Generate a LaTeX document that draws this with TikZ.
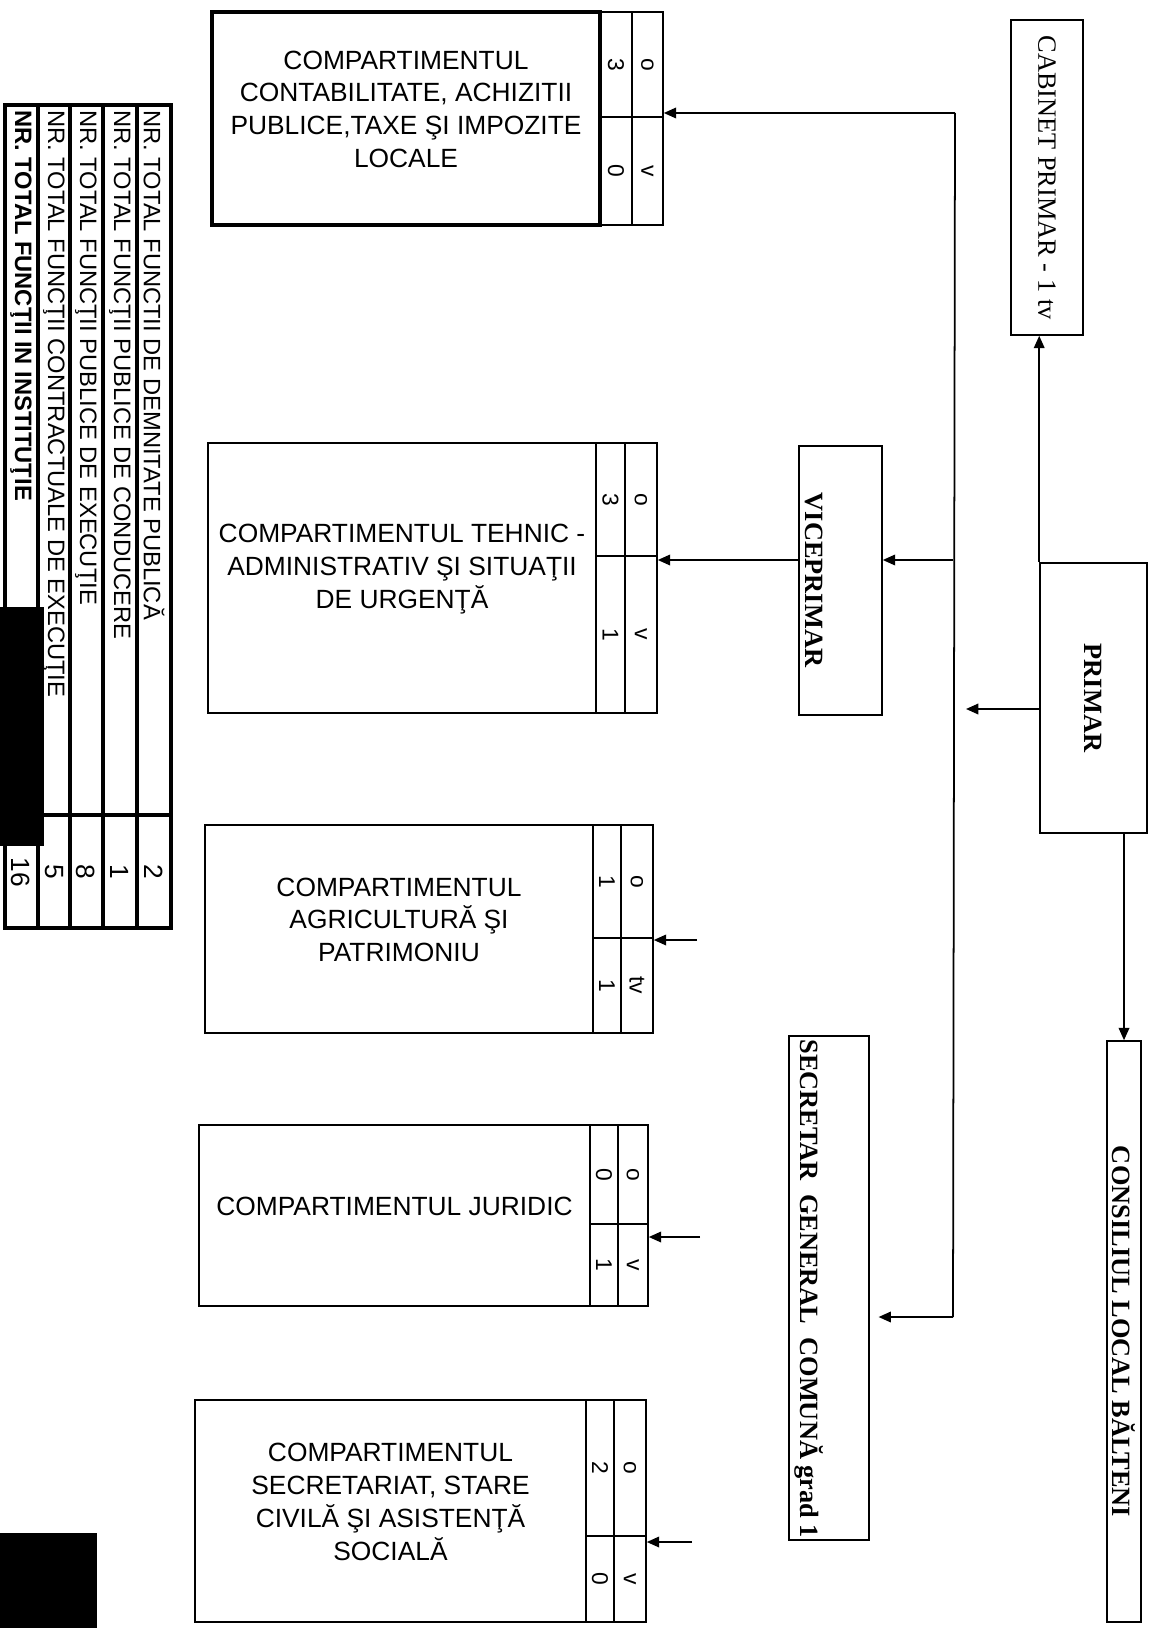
\documentclass[tikz,border=0pt]{standalone}
\usepackage{fontspec}
\setmainfont{Liberation Serif}
\newfontfamily\arial{Liberation Sans}
\usetikzlibrary{arrows.meta, positioning, fit}
\newcommand{\turn}[1]{\rotatebox{-90}{\arial\fontsize{13}{15}\selectfont #1}}

\begin{document}
\begin{tikzpicture}[x=0.02cm, y=-0.02cm,
        box/.style={draw, line width=0.9pt, inner sep=0pt},
        numcell/.style={draw, line width=0.9pt, inner sep=0pt},
        dept/.style={box, align=center,
                     font=\arial\fontsize{15}{18.7}\selectfont},
        vtxt/.style={rotate=-90, inner sep=0pt, font=\fontsize{15}{18}\selectfont},
        tabtxt/.style={rotate=-90, inner sep=0pt,
                       font=\arial\fontsize{13.5}{15}\selectfont},
        tabline/.style={line width=1.9pt},
        arr/.style={-{Triangle[length=7pt,width=6pt]}, line width=1pt}
      ]
        \useasboundingbox (0,0) rectangle (1151,1628);
        \node[box, fit={(1011,20) (1083,335)}] (cab) {};
        \node[vtxt] (cabtxt) at (cab.center) {CABINET PRIMAR - 1 tv};
        \node[box, fit={(1040,563) (1147,833)}] (primar) {};
        \node[vtxt, font=\bfseries\fontsize{15}{18}\selectfont] (primartxt) at (primar.center) {PRIMAR};
        \node[box, fit={(1107,1041) (1141,1622)}] (cons) {};
        \node[vtxt, font=\bfseries\fontsize{15}{18}\selectfont] (constxt) at (cons.center) {CONSILIUL LOCAL BĂLTENI};
        \node[box, fit={(799,446) (882,715)}] (vice) {};
        \node[vtxt, font=\bfseries\fontsize{15}{18}\selectfont] (vicetxt) at (814,580) {VICEPRIMAR};
        \node[box, fit={(789,1036) (869,1540)}] (secg) {};
        \node[vtxt, anchor=west, font=\bfseries\fontsize{15}{18}\selectfont] (secgtxt) at (809,1039)
          {SECRETAR~~GENERAL~~COMUNĂ grad 1};

        \node[dept, line width=1.8pt, fit={(212,12) (600,225)}] (cont)
          {COMPARTIMENTUL\\CONTABILITATE, ACHIZITII\\PUBLICE,TAXE ŞI IMPOZITE\\LOCALE};
        \node[numcell, fit={(600,12) (632,117)}] (contN) {\turn{3}};
        \node[numcell, fit={(632,12) (663,117)}] (contO) {\turn{o}};
        \node[numcell, fit={(600,117) (632,225)}] (contM) {\turn{0}};
        \node[numcell, fit={(632,117) (663,225)}] (contV) {\turn{v}};

        \node[dept, fit={(208,443) (596,713)}] (teh)
          {COMPARTIMENTUL TEHNIC -\\ADMINISTRATIV ŞI SITUAŢII\\DE URGENŢĂ};
        \node[numcell, fit={(596,443) (625,556)}] (tehN) {\turn{3}};
        \node[numcell, fit={(625,443) (657,556)}] (tehO) {\turn{o}};
        \node[numcell, fit={(596,556) (625,713)}] (tehM) {\turn{1}};
        \node[numcell, fit={(625,556) (657,713)}] (tehV) {\turn{v}};

        \node[dept, fit={(205,825) (593,1033)}] (agr)
          {COMPARTIMENTUL\\AGRICULTURĂ ŞI\\PATRIMONIU};
        \node[numcell, fit={(593,825) (621,938)}] (agrN) {\turn{1}};
        \node[numcell, fit={(621,825) (653,938)}] (agrO) {\turn{o}};
        \node[numcell, fit={(593,938) (621,1033)}] (agrM) {\turn{1}};
        \node[numcell, fit={(621,938) (653,1033)}] (agrV) {\turn{tv}};

        \node[dept, fit={(199,1125) (590,1306)}] (jur)
          {COMPARTIMENTUL JURIDIC};
        \node[numcell, fit={(590,1125) (618,1224)}] (jurN) {\turn{0}};
        \node[numcell, fit={(618,1125) (648,1224)}] (jurO) {\turn{o}};
        \node[numcell, fit={(590,1224) (618,1306)}] (jurM) {\turn{1}};
        \node[numcell, fit={(618,1224) (648,1306)}] (jurV) {\turn{v}};

        \node[dept, fit={(195,1400) (586,1622)}] (sec)
          {COMPARTIMENTUL\\SECRETARIAT, STARE\\CIVILĂ ŞI ASISTENŢĂ\\SOCIALĂ};
        \node[numcell, fit={(586,1400) (614,1536)}] (secN) {\turn{2}};
        \node[numcell, fit={(614,1400) (646,1536)}] (secO) {\turn{o}};
        \node[numcell, fit={(586,1536) (614,1622)}] (secM) {\turn{0}};
        \node[numcell, fit={(614,1536) (646,1622)}] (secV) {\turn{v}};

        \coordinate (bustop) at (955,113);
        \coordinate (busbot) at (953,1317);
        \coordinate (busvice) at (953,560);
        \coordinate (busprim) at (966,709);
        \coordinate (agrin) at (697,940);
        \coordinate (jurin) at (700,1237);
        \coordinate (secin) at (692,1542);
        \draw[line width=1pt] (bustop) -- (busbot);
        \draw[arr] (bustop) -- (bustop -| contO.east);
        \draw[arr] (busvice) -- (busvice -| vice.east);
        \draw[arr, shorten >=5pt] (busbot) -- (busbot -| secg.east);
        \draw[arr] (primar.west |- busprim) -- (busprim);
        \draw[arr] (primar.north west) -- (primar.north west |- cab.south);
        \draw[arr] (cons.north |- primar.south) -- (cons.north);
        \draw[arr] (vice.west |- busvice) -- (tehO.east |- busvice);
        \draw[arr] (agrin) -- (agrin -| agrO.east);
        \draw[arr] (jurin) -- (jurin -| jurO.east);
        \draw[arr] (secin) -- (secin -| secO.east);

        \draw[tabline] (5,105) rectangle (171,928);
        \foreach \x in {38,70,103,137}
          \draw[tabline] (\x,105) -- (\x,928);
        \draw[tabline] (5,815) -- (171,815);
        \node[tabtxt, anchor=west] (t1) at (154,110) {NR. TOTAL FUNCTII DE DEMNITATE PUBLICĂ};
        \node[tabtxt, anchor=west] (t2) at (120,110) {NR. TOTAL FUNCŢII PUBLICE DE CONDUCERE};
        \node[tabtxt, anchor=west] (t3) at (86,110) {NR. TOTAL FUNCŢII PUBLICE DE EXECUŢIE};
        \node[tabtxt, anchor=west] (t4) at (54,110) {NR. TOTAL FUNCŢII CONTRACTUALE DE EXECUŢIE};
        \node[tabtxt, anchor=west, font=\arial\bfseries\fontsize{13.5}{15}\selectfont] (t5) at (21,110)
          {NR. TOTAL FUNCŢII IN INSTITUŢIE};
        \node[tabtxt, font=\arial\fontsize{15}{17}\selectfont] (n1) at (154,872) {2};
        \node[tabtxt, font=\arial\fontsize{15}{17}\selectfont] (n2) at (120,872) {1};
        \node[tabtxt, font=\arial\fontsize{15}{17}\selectfont] (n3) at (86,872) {8};
        \node[tabtxt, font=\arial\fontsize{15}{17}\selectfont] (n4) at (54,872) {5};
        \node[tabtxt, font=\arial\fontsize{15}{17}\selectfont] (n5) at (21,872) {16};
        \fill (0,607) rectangle (44,846);
        \fill (0,1533) rectangle (97,1628);
      \end{tikzpicture}
\end{document}
